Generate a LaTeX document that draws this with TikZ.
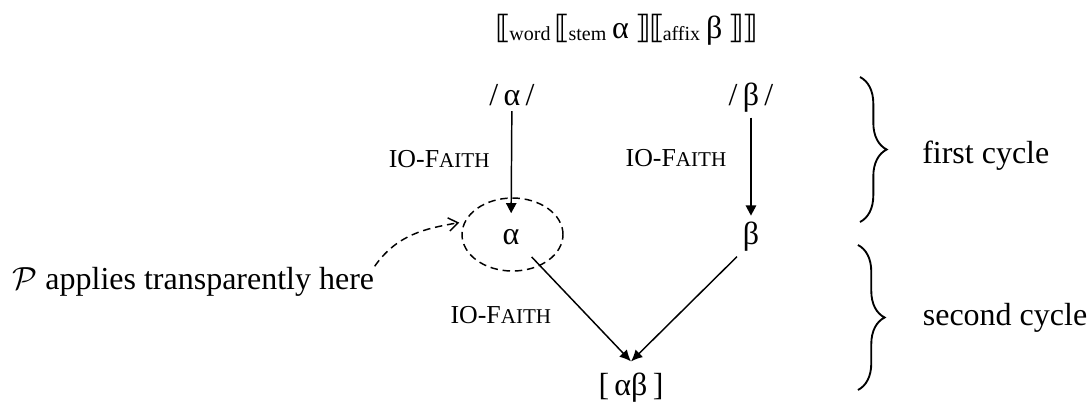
\documentclass[tikz,border=0pt]{standalone}
\usepackage{fontspec}
\setmainfont{Liberation Serif}
\newfontfamily\brkfont{DejaVu Sans}
\usetikzlibrary{arrows.meta,positioning,shapes.geometric,decorations.pathreplacing}

\newcommand{\lsub}[1]{\raisebox{-1.1pt}{\fontsize{7.5}{8}\selectfont #1}}
\newcommand{\lbrk}{{\brkfont\fontsize{12}{13}\selectfont ⟦}}
\newcommand{\rbrk}{{\brkfont\fontsize{12}{13}\selectfont ⟧}}
\newcommand{\faith}{IO-F{\fontsize{7.9}{9}\selectfont AITH}}

\begin{document}
\begin{tikzpicture}[
  font=\fontsize{12}{14}\selectfont,
  form/.style={inner sep=2pt, anchor=base},
  lbl/.style={inner sep=0pt, font=\fontsize{9.7}{11}\selectfont},
  ring/.style={draw, ellipse, dsh, inner sep=0pt, minimum width=1.331cm, minimum height=0.962cm},
  arr/.style={-{Triangle[length=3.8pt,width=3.9pt]}, line width=0.55pt},
  darr/.style={-{Latex[length=4.3pt,width=4pt]}, line width=0.55pt},
  dsh/.style={line width=0.55pt, dash pattern=on 2.8pt off 1.8pt},
  cyc/.style={decorate, decoration={brace, amplitude=10pt}, line width=0.7pt}
]
\useasboundingbox (0,0) rectangle (14.393,-5.312);
% forms
\node[form] (w) at (8.264,-0.501) {\lbrk\kern-0.8pt\lsub{word}\hspace{1.6pt}\lbrk\kern-0.8pt\lsub{stem}\hspace{2.2pt}α\hspace{2.4pt}\rbrk\kern-0.8pt\lbrk\kern-0.8pt\lsub{affix}\hspace{2.2pt}β\hspace{2.4pt}\rbrk\kern-0.8pt\rbrk};
\node[form] (ua) at (6.748,-1.384) {/\,α\,/};
\node[form] (ub) at (9.898,-1.384) {/\,β\,/};
\node[form] (la) at (6.735,-3.216) {α};
\node[form] (lb) at (9.898,-3.216) {β};
\node[form] (ab) at (8.317,-5.219) {[\,αβ\,]};
\node[ring] (zone) at (6.755,-3.091) {};
\node[inner sep=0pt, anchor=base west] (note) at (0.158,-3.809) {$\mathcal{P}$ applies transparently here};
% derivation
\draw[arr, shorten >=3.7pt] (ua) -- node[lbl, left=8pt, pos=.43] (f1) {\faith} (la);
\draw[arr] (ub) -- node[lbl, left=9pt, pos=.41] (f2) {\faith} (lb);
\draw[darr, shorten <=3.5pt] (la.south east) -- node[lbl, left=13pt, pos=.58] (f3) {\faith} ([yshift=2.3pt]ab.north);
\draw[darr] (lb.south west) -- ([yshift=2.3pt]ab.north);
\draw[dsh, -{Straight Barb[length=3.5pt,width=5pt]}, shorten >=2pt] (note.north east) to[out=55, in=190] (zone.165);
% cycles
\coordinate (c1a) at (11.335,-1.015);
\coordinate (c1b) at (11.335,-2.926);
\coordinate (c2a) at (11.308,-3.229);
\coordinate (c2b) at (11.308,-5.140);
\draw[cyc] (c1a) -- node[right=23pt, yshift=-2.2pt, inner sep=0pt] (c1) {first cycle} (c1b);
\draw[cyc] (c2a) -- node[right=24pt, inner sep=0pt] (c2) {second cycle} (c2b);
\end{tikzpicture}
\end{document}
